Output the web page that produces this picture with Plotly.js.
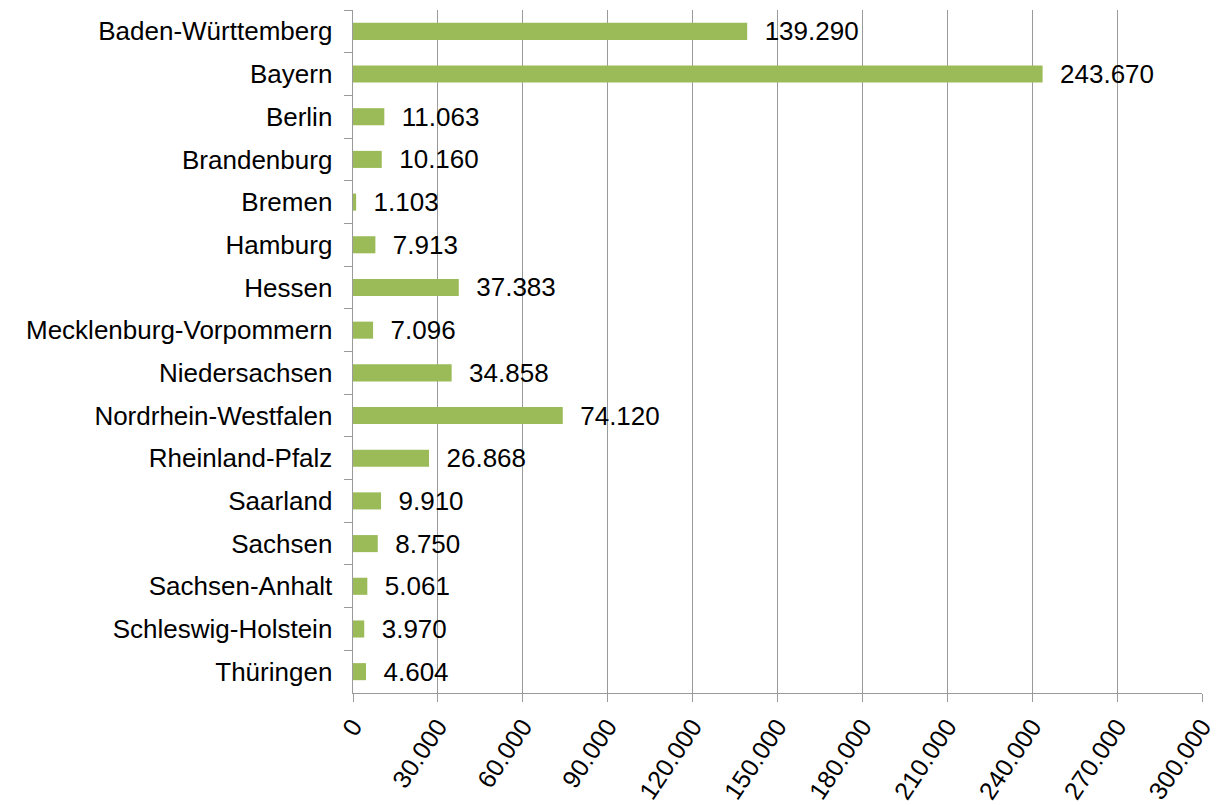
<!DOCTYPE html>
<html>
<head>
<meta charset="utf-8">
<script src="https://cdn.plot.ly/plotly-3.0.1.min.js"></script>
<style>
  body { margin: 0; background: #fff; }
  #chart { width: 1219px; height: 805px; }
</style>
</head>
<body>
<div id="chart"></div>
<script>
// Bundeslaender und Werte, von oben nach unten
let laender = ['Baden-Württemberg', 'Bayern', 'Berlin', 'Brandenburg', 'Bremen', 'Hamburg',
  'Hessen', 'Mecklenburg-Vorpommern', 'Niedersachsen', 'Nordrhein-Westfalen',
  'Rheinland-Pfalz', 'Saarland', 'Sachsen', 'Sachsen-Anhalt', 'Schleswig-Holstein', 'Thüringen'];
let werte = [139290, 243670, 11063, 10160, 1103, 7913, 37383, 7096, 34858, 74120,
  26868, 9910, 8750, 5061, 3970, 4604];
let tickWerte = [0, 30000, 60000, 90000, 120000, 150000, 180000, 210000, 240000, 270000, 300000];

function showBar(){
  let barData = [{
    x: werte,
    y: laender,
    type: 'bar',
    orientation: 'h',
    marker: {color: '#9BBB59'},
    texttemplate: '\u00a0\u00a0%{x:,d}',
    textposition: 'outside',
    constraintext: 'none',
    cliponaxis: false,
    textfont: {family: 'Liberation Sans, Arial, sans-serif', size: 26, color: '#000'},
    hoverinfo: 'none'
  }];
  let layout = {
    width: 1219,
    height: 805,
    margin: {l: 353, r: 17, t: 10, b: 112},
    separators: ',.',
    bargap: 0.6,
    showlegend: false,
    paper_bgcolor: '#fff',
    plot_bgcolor: '#fff',
    font: {family: 'Liberation Sans, Arial, sans-serif', size: 26, color: '#000'},
    xaxis: {
      range: [0, 300000],
      tickvals: tickWerte,
      tickformat: ',d',
      tickangle: -56,
      showgrid: true,
      gridcolor: '#9a9a9a',
      gridwidth: 1,
      showline: true,
      linecolor: '#9a9a9a',
      ticks: 'outside',
      ticklen: 8,
      tickcolor: '#9a9a9a',
      zeroline: false,
      fixedrange: true,
      tickfont: {size: 25}
    },
    yaxis: {
      autorange: 'reversed',
      showline: true,
      linecolor: '#9a9a9a',
      ticks: 'outside',
      tickson: 'boundaries',
      ticklen: 8,
      tickcolor: '#9a9a9a',
      showgrid: false,
      ticksuffix: '\u00a0\u00a0',
      tickfont: {size: 26},
      fixedrange: true
    }
  };
  Plotly.newPlot('chart', barData, layout, {displayModeBar: false, staticPlot: true});
}

showBar();
</script>
</body>
</html>
